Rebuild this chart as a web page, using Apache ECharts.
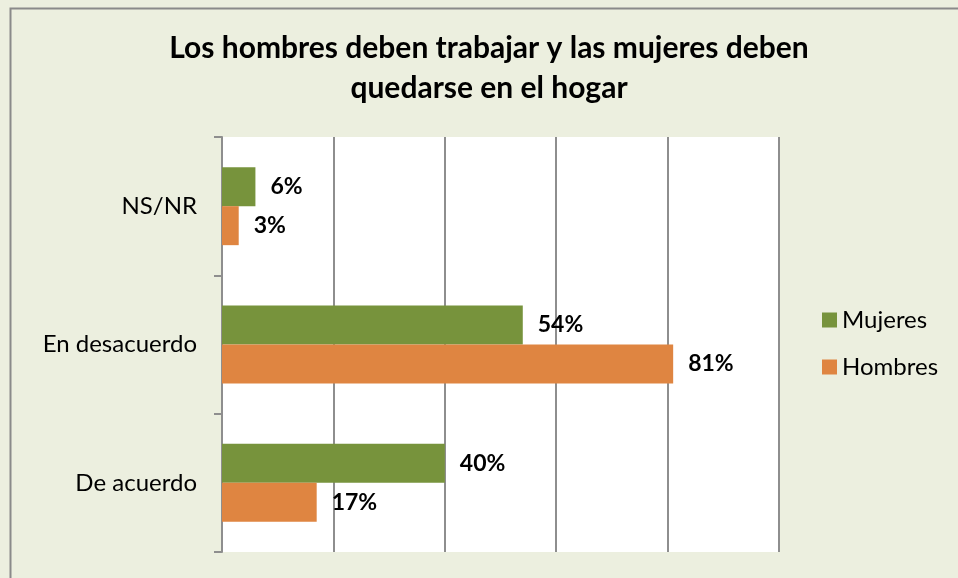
<!DOCTYPE html>
<html><head><meta charset="utf-8">
<script src="https://cdn.jsdelivr.net/npm/echarts@6/dist/echarts.min.js"></script>
<style>html,body{margin:0;padding:0;background:#fff;}#c{width:958px;height:578px;}</style>
</head><body><div id="c"></div>
<script>
const categories = ['De acuerdo', 'En desacuerdo', 'NS/NR'];
const mujeres = [40, 54, 6];
const hombres = [17, 81, 3];
const seriesNames = ['Mujeres', 'Hombres'];
const titleText = 'Los hombres deben trabajar y las mujeres deben\nquedarse en el hogar';

const chart = echarts.init(document.getElementById('c'));
const FONT = 'Lato';
const labelCfg = {
  show: true, position: 'right', distance: 15,
  formatter: '{c}%', fontFamily: FONT, fontWeight: 'bold', fontSize: 23, color: '#000'
};
chart.setOption({
  backgroundColor: '#ECEFDF',
  animation: false,
  graphic: [{
    type: 'rect', left: 8, top: 6, silent: true,
    shape: { width: 960, height: 580 },
    style: { fill: 'none', stroke: '#8a8a8a', lineWidth: 2 }
  }, {
    type: 'rect', left: 222, top: 137, silent: true, z: -1,
    shape: { width: 557, height: 415 },
    style: { fill: '#fff' }
  }],
  title: {
    text: titleText, left: 484, top: 23, textAlign: 'center',
    textStyle: { fontFamily: FONT, fontWeight: 'bold', fontSize: 30, color: '#000', lineHeight: 40 }
  },
  legend: {
    orient: 'vertical', left: 817, top: 303, itemWidth: 15, itemHeight: 15, itemGap: 23,
    icon: 'rect', data: seriesNames,
    textStyle: { fontFamily: FONT, fontSize: 24, color: '#000' }
  },
  grid: { left: 222, right: 179, top: 137, bottom: 26, containLabel: false, show: false },
  xAxis: {
    type: 'value', min: 0, max: 100, interval: 20,
    axisLabel: { show: false }, axisLine: { show: false }, axisTick: { show: false },
    splitLine: { show: true, lineStyle: { color: '#8e8e8e', width: 2 } }
  },
  yAxis: {
    type: 'category', data: categories,
    axisLine: { show: true, lineStyle: { color: '#8e8e8e', width: 2 } },
    axisTick: { show: true, length: 8, lineStyle: { color: '#8e8e8e', width: 2 } },
    axisLabel: { margin: 25, fontFamily: FONT, fontSize: 24, color: '#000' }
  },
  series: [
    { name: seriesNames[0], type: 'bar', data: mujeres, barWidth: 39, barGap: '0%',
      itemStyle: { color: '#77933C' }, label: labelCfg },
    { name: seriesNames[1], type: 'bar', data: hombres, barWidth: 39, barGap: '0%',
      itemStyle: { color: '#DF8541' }, label: labelCfg }
  ]
});
</script></body></html>
